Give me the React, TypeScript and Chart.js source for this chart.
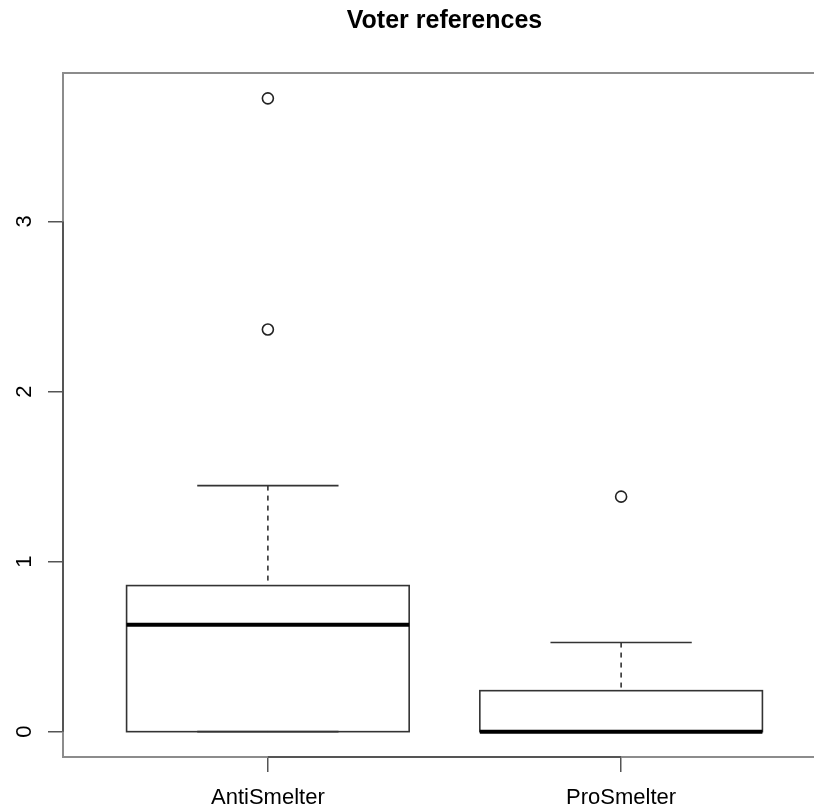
import React, { useEffect, useRef } from 'react';
import { Chart, registerables } from 'chart.js';

Chart.register(...registerables);

// ---- data ----
const categories = ['AntiSmelter', 'ProSmelter'];
const lowerWhisker = [0, 0];
const q1 = [0, 0];
const median = [0.629, 0];
const q3 = [0.859, 0.241];
const upperWhisker = [1.447, 0.524];
const outlierGroup = [0, 0, 1];
const outlierValues = [3.724, 2.365, 1.382];
const yTicks = [0, 1, 2, 3];
const xTicks = [1, 2];
const chartTitle = 'Voter references';

const FONT = '"Liberation Sans", Arial, Helvetica, sans-serif';

const boxPlugin = {
  id: 'rBoxplot',
  beforeDatasetsDraw(chart: any) {
    const { ctx, scales } = chart;
    const x = scales.x;
    const y = scales.y;
    const line = (x1: number, y1: number, x2: number, y2: number) => {
      ctx.beginPath();
      ctx.moveTo(x1, y1);
      ctx.lineTo(x2, y2);
      ctx.stroke();
    };
    ctx.save();
    categories.forEach((_, i) => {
      const pos = i + 1;
      const cx = x.getPixelForValue(pos);
      const bl = x.getPixelForValue(pos - 0.4);
      const br = x.getPixelForValue(pos + 0.4);
      const sl = x.getPixelForValue(pos - 0.2);
      const sr = x.getPixelForValue(pos + 0.2);
      const pLW = y.getPixelForValue(lowerWhisker[i]);
      const pQ1 = y.getPixelForValue(q1[i]);
      const pMed = y.getPixelForValue(median[i]);
      const pQ3 = y.getPixelForValue(q3[i]);
      const pUW = y.getPixelForValue(upperWhisker[i]);
      ctx.strokeStyle = '#333333';
      ctx.lineWidth = 1.6;
      ctx.setLineDash([5, 5]);
      line(cx, pUW, cx, pQ3);
      line(cx, pLW, cx, pQ1);
      ctx.setLineDash([]);
      line(sl, pUW, sr, pUW);
      line(sl, pLW, sr, pLW);
      ctx.strokeRect(bl, pQ3, br - bl, pQ1 - pQ3);
      ctx.strokeStyle = '#000000';
      ctx.lineWidth = 4;
      line(bl, pMed, br, pMed);
    });
    ctx.restore();
  },
  afterDraw(chart: any) {
    const { ctx, chartArea, scales } = chart;
    const x = scales.x;
    const y = scales.y;
    ctx.save();
    ctx.strokeStyle = '#8c8c8c';
    ctx.lineWidth = 2;
    ctx.strokeRect(chartArea.left, chartArea.top, chartArea.right - chartArea.left, chartArea.bottom - chartArea.top);
    ctx.strokeStyle = '#555555';
    ctx.lineWidth = 2;
    ctx.beginPath();
    ctx.moveTo(chartArea.left, y.getPixelForValue(yTicks[0]));
    ctx.lineTo(chartArea.left, y.getPixelForValue(yTicks[yTicks.length - 1]));
    ctx.moveTo(x.getPixelForValue(xTicks[0]), chartArea.bottom);
    ctx.lineTo(x.getPixelForValue(xTicks[xTicks.length - 1]), chartArea.bottom);
    ctx.stroke();
    ctx.restore();
  },
};

export default function App() {
  const ref = useRef<HTMLCanvasElement | null>(null);
  useEffect(() => {
    if (!ref.current) return;
    const chart = new Chart(ref.current, {
      type: 'scatter',
      data: {
        datasets: [
          {
            label: 'outliers',
            data: outlierValues.map((v, i) => ({ x: outlierGroup[i] + 1, y: v })),
            pointRadius: 5.5,
            pointHoverRadius: 5.5,
            pointBorderWidth: 1.6,
            borderColor: '#222222',
            backgroundColor: 'rgba(255,255,255,0)',
          },
        ],
      },
      options: {
        responsive: false,
        animation: false,
        devicePixelRatio: 1,
        layout: { padding: { left: 0, right: 14, top: 0, bottom: 0 } },
        plugins: {
          legend: { display: false },
          tooltip: { enabled: false },
          title: {
            display: true,
            text: chartTitle,
            fullSize: false,
            color: '#000000',
            font: { family: FONT, size: 25, weight: 'bold', lineHeight: 1.2 },
            padding: { top: 6, bottom: 37 },
          },
        },
        scales: {
          x: {
            type: 'linear',
            min: 0.42,
            max: 2.58,
            afterBuildTicks: (s: any) => {
              s.ticks = xTicks.map((v) => ({ value: v }));
            },
            afterFit: (s: any) => {
              s.height = 53;
            },
            border: { display: false },
            grid: {
              display: true,
              drawOnChartArea: false,
              drawTicks: true,
              tickLength: 15,
              color: '#555555',
              lineWidth: 1.5,
            },
            ticks: {
              padding: 13,
              color: '#000000',
              font: { family: FONT, size: 22 },
              maxRotation: 0,
              minRotation: 0,
              callback: (v: any) => categories[Math.round(Number(v)) - 1] ?? '',
            },
          },
          y: {
            type: 'linear',
            min: -0.149,
            max: 3.873,
            afterBuildTicks: (s: any) => {
              s.ticks = yTicks.map((v) => ({ value: v }));
            },
            afterFit: (s: any) => {
              s.width = 63;
            },
            border: { display: false },
            grid: {
              display: true,
              drawOnChartArea: false,
              drawTicks: true,
              tickLength: 15,
              color: '#555555',
              lineWidth: 1.5,
            },
            ticks: {
              padding: 17,
              crossAlign: 'center',
              minRotation: 90,
              maxRotation: 90,
              color: '#000000',
              font: { family: FONT, size: 22 },
              callback: (v: any) => String(v),
            },
          },
        },
      },
      plugins: [boxPlugin],
    } as any);
    return () => chart.destroy();
  }, []);

  return (
    <div style={{ position: 'fixed', left: 0, top: 0, width: 814, height: 810, overflow: 'hidden', background: '#ffffff' }}>
      <canvas ref={ref} width={840} height={810} style={{ display: 'block' }} />
    </div>
  );
}
